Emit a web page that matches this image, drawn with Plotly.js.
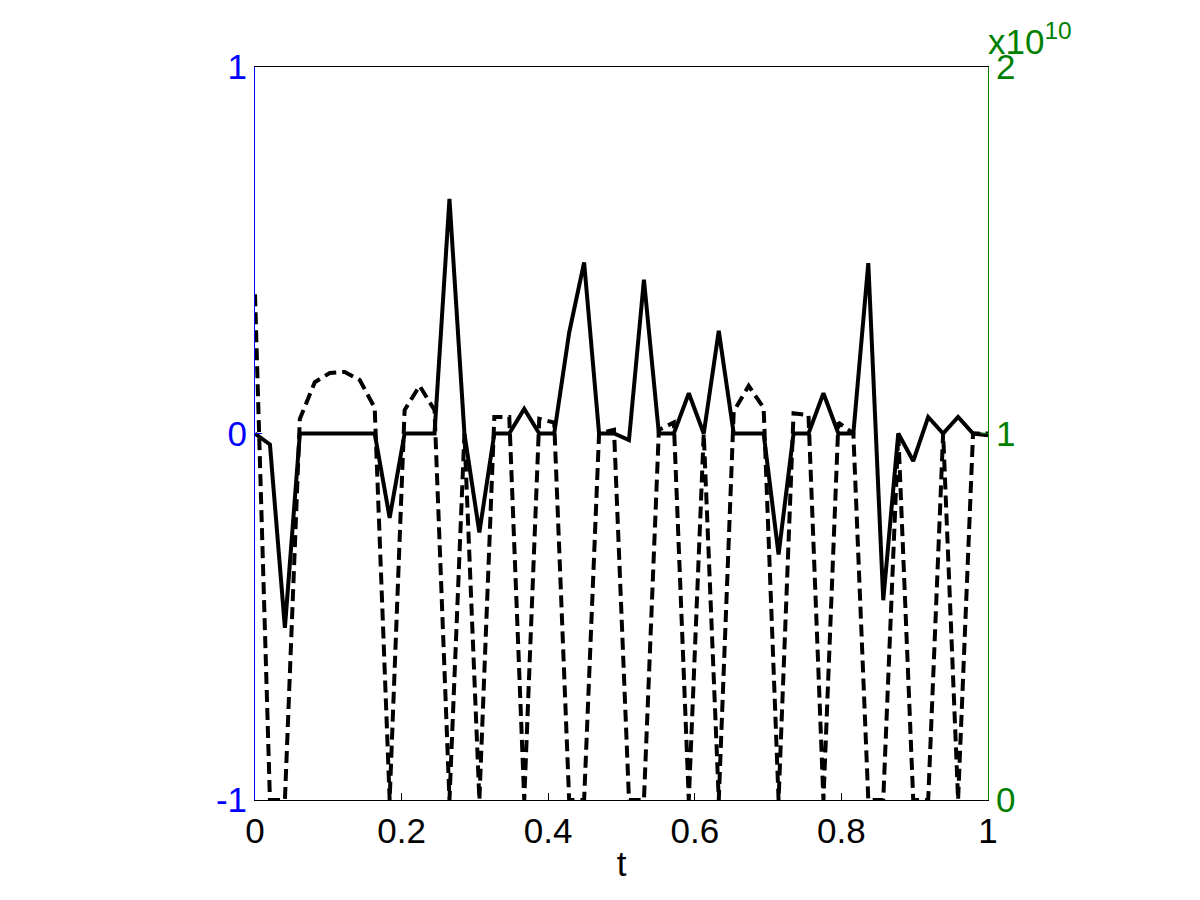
<!DOCTYPE html>
<html>
<head>
<meta charset="utf-8">
<script src="https://cdn.plot.ly/plotly-3.0.1.min.js"></script>
<style>
    body { margin: 0; background: #ffffff; }
    #plot { width: 1200px; height: 900px; }
</style>
</head>
<body>
<div id="plot"></div>
<script>
// sample times (50 points from 0 to 1)
const t = [0, 0.0204, 0.0408, 0.0612, 0.0816, 0.1020, 0.1224, 0.1429, 0.1633, 0.1837,
    0.2041, 0.2245, 0.2449, 0.2653, 0.2857, 0.3061, 0.3265, 0.3469, 0.3673, 0.3878,
    0.4082, 0.4286, 0.4490, 0.4694, 0.4898, 0.5102, 0.5306, 0.5510, 0.5714, 0.5918,
    0.6122, 0.6327, 0.6531, 0.6735, 0.6939, 0.7143, 0.7347, 0.7551, 0.7755, 0.7959,
    0.8163, 0.8367, 0.8571, 0.8776, 0.8980, 0.9184, 0.9388, 0.9592, 0.9796, 1];

// solid line, left axis
const solid = [0, -0.03, -0.53, 0, 0, 0, 0, 0, 0, -0.23,
    0, 0, 0, 0.64, 0, -0.27, 0, 0, 0.067, 0,
    0, 0.275, 0.467, 0, 0, -0.018, 0.42, 0, 0, 0.11,
    0, 0.28, 0, 0, 0, -0.33, 0, 0, 0.11, 0,
    0, 0.465, -0.455, 0, -0.075, 0.045, 0, 0.045, 0, -0.005];

// dashed line, right axis (units of 1e10)
const dashed = [1.38, 0, 0, 1.04, 1.14, 1.165, 1.168, 1.146, 1.07, 0,
    1.064, 1.13, 1.064, 0, 1.0, 0, 1.045, 1.045, 0, 1.04,
    1.03, 0, 0, 1.0, 1.01, 0, 0, 1.01, 1.03, 0,
    1.0, 0, 1.06, 1.13, 1.07, 0, 1.055, 1.05, 0, 1.03,
    1.0, 0, 0, 1.0, 0, 0, 1.0, 0, 1.0, 1.0];

const xTicks = [0, 0.2, 0.4, 0.6, 0.8, 1];
const xTickText = ['0', '0.2', '0.4', '0.6', '0.8', '1'];
const yTicks = [-1, 0, 1];
const yTickText = ['-1', '0', '1'];
const y2Ticks = [0, 1, 2];
const y2TickText = ['0', '1', '2'];

const BLUE = '#0000ff';
const GREEN = '#008000';
const FONT = 'Liberation Sans, Arial, Helvetica, sans-serif';

Plotly.newPlot('plot', [{
    x: t,
    y: dashed,
    yaxis: 'y2',
    type: 'scatter',
    mode: 'lines',
    line: { color: 'black', width: 4, dash: '12px,6px' }
}, {
    x: t,
    y: solid,
    type: 'scatter',
    mode: 'lines',
    line: { color: 'black', width: 4 }
}], {
    width: 1200,
    height: 900,
    margin: { l: 255, r: 212, t: 67, b: 100 },
    paper_bgcolor: 'white',
    plot_bgcolor: 'white',
    showlegend: false,
    font: { family: FONT, size: 34, color: 'black' },
    xaxis: {
        range: [0, 1],
        tickvals: xTicks,
        ticktext: xTickText,
        ticks: 'inside',
        ticklen: 7,
        tickcolor: 'black',
        showline: true,
        linecolor: 'black',
        linewidth: 1,
        mirror: true,
        showgrid: false,
        zeroline: false,
        tickfont: { size: 35, color: 'black' },
        title: { text: 't', font: { size: 35, color: 'black' }, standoff: 2 }
    },
    yaxis: {
        range: [-1, 1],
        tickvals: yTicks,
        ticktext: yTickText,
        ticks: 'inside',
        ticklen: 7,
        tickcolor: BLUE,
        showline: true,
        linecolor: BLUE,
        linewidth: 1,
        showgrid: false,
        zeroline: false,
        tickfont: { size: 35, color: BLUE }
    },
    yaxis2: {
        overlaying: 'y',
        side: 'right',
        range: [0, 2],
        tickvals: y2Ticks,
        ticktext: y2TickText,
        ticks: 'inside',
        ticklen: 7,
        tickcolor: GREEN,
        showline: true,
        linecolor: GREEN,
        linewidth: 1,
        showgrid: false,
        zeroline: false,
        tickfont: { size: 35, color: GREEN }
    },
    annotations: [{
        xref: 'paper', yref: 'paper',
        x: 0.997, y: 1.006,
        xanchor: 'left', yanchor: 'bottom',
        text: 'x10<sup>10</sup>',
        showarrow: false,
        font: { family: FONT, size: 35, color: GREEN }
    }]
}, { displayModeBar: false, staticPlot: true });
</script>
</body>
</html>
